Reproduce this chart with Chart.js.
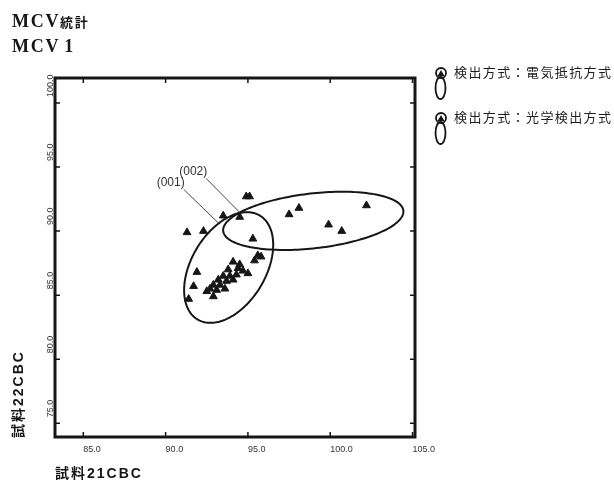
<!DOCTYPE html>
<html>
<head>
<meta charset="utf-8">
<script src="https://cdn.jsdelivr.net/npm/chart.js@4.4.1/dist/chart.umd.min.js"></script>
<style>
  html, body { margin: 0; padding: 0; background: #fff; }
  #wrap { width: 614px; height: 488px; }
</style>
</head>
<body>
<div id="wrap"><canvas id="chart" width="614" height="488"></canvas></div>
<script>
// ---- text ----
const titleLines = ['MCV統計', 'MCV 1'];
const seriesNames = ['検出方式：電気抵抗方式', '検出方式：光学検出方式'];
const xAxisTitle = '試料21CBC';
const yAxisTitle = '試料22CBC';

// ---- tick values ----
const xTicks = [85, 90, 95, 100, 105];
const yTicks = [75, 80, 85, 90, 95, 100];

// ---- MCV values, 電気抵抗方式 (x: 試料21, y: 試料22) ----
const resistX = [91.3, 92.3, 93.5, 94.9, 95.1, 94.5, 95.6, 95.4, 95.8, 91.9, 91.7, 91.4, 92.5, 92.9, 93.6,
                 94.1, 94.4, 94.7, 95.0, 93.8, 93.5, 93.2, 92.9, 93.3, 93.9, 94.3, 94.5, 92.7, 93.7, 94.1, 93.1];
const resistY = [89.9, 90.0, 91.2, 92.7, 92.7, 91.1, 88.1, 87.7, 88.0, 86.8, 85.7, 84.7, 85.3, 84.9, 85.5,
                 87.6, 87.1, 86.9, 86.7, 87.0, 86.5, 86.2, 85.8, 85.8, 86.5, 86.6, 87.4, 85.5, 86.1, 86.2, 85.4];

// ---- MCV values, 光学検出方式 ----
const opticalX = [95.3, 97.5, 98.1, 102.2, 99.9, 100.7];
const opticalY = [89.4, 91.3, 91.8, 92.0, 90.5, 90.0];

// ---- distribution ellipses: centre and two conjugate semi-axes (MCV units) ----
const ellipseIds = ['(001)', '(002)'];
const ellipseCenter = [[93.83, 87.16], [98.97, 90.80]];
const ellipseAxisA = [[1.892, 4.055], [5.473, 0.801]];
const ellipseAxisB = [[1.934, -1.492], [0.189, -2.127]];

const INK = '#161616';
const CJK = '"Noto Sans CJK JP"';

function toPoints(xs, ys) {
  return xs.map((x, i) => ({ x: x, y: ys[i] }));
}

function ellipsePoint(k, t) {
  const c = ellipseCenter[k], a = ellipseAxisA[k], b = ellipseAxisB[k];
  return [c[0] + a[0] * Math.cos(t) + b[0] * Math.sin(t),
          c[1] + a[1] * Math.cos(t) + b[1] * Math.sin(t)];
}

function triangle(ctx, x, y, r) {
  ctx.beginPath();
  ctx.moveTo(x, y - r);
  ctx.lineTo(x + r * 0.866, y + r * 0.5);
  ctx.lineTo(x - r * 0.866, y + r * 0.5);
  ctx.closePath();
  ctx.fill();
}

// draws Latin and CJK runs with their own fonts
function drawRuns(ctx, text, x, y, latinFont, cjkFont, spacing) {
  const runs = text.match(/[\u3000-\u9fff\uff00-\uffef]+|[^\u3000-\u9fff\uff00-\uffef]+/g) || [];
  ctx.letterSpacing = spacing + 'px';
  runs.forEach(run => {
    const isCjk = /[\u3000-\u9fff\uff00-\uffef]/.test(run);
    ctx.font = isCjk ? cjkFont : latinFont;
    ctx.fillText(run, x, y);
    x += ctx.measureText(run).width;
  });
  ctx.letterSpacing = '0px';
}

const decor = {
  id: 'decor',
  afterDatasetsDraw(chart) {
    const ctx = chart.ctx;
    const xs = chart.scales.x, ys = chart.scales.y;
    ctx.save();
    // ellipses
    ctx.strokeStyle = INK;
    ctx.lineWidth = 2;
    ellipseCenter.forEach((c, k) => {
      ctx.beginPath();
      for (let i = 0; i <= 180; i++) {
        const p = ellipsePoint(k, i / 180 * Math.PI * 2);
        const px = xs.getPixelForValue(p[0]), py = ys.getPixelForValue(p[1]);
        if (i === 0) ctx.moveTo(px, py); else ctx.lineTo(px, py);
      }
      ctx.closePath();
      ctx.stroke();
    });
    // callouts
    const calloutT = [-1.0, -2.49];
    const calloutOffset = [[-35, -34], [-33.5, -34]];
    ctx.lineWidth = 0.9;
    ctx.strokeStyle = '#333';
    ctx.fillStyle = '#333';
    ctx.font = '12px "Liberation Sans"';
    ctx.textAlign = 'right';
    ctx.textBaseline = 'alphabetic';
    ellipseIds.forEach((id, k) => {
      const p = ellipsePoint(k, calloutT[k]);
      const ex = xs.getPixelForValue(p[0]), ey = ys.getPixelForValue(p[1]);
      const sx = ex + calloutOffset[k][0], sy = ey + calloutOffset[k][1];
      ctx.beginPath();
      ctx.moveTo(sx, sy);
      ctx.lineTo(ex, ey);
      ctx.stroke();
      ctx.fillText(id, sx + 1, sy - 3);
    });
    ctx.restore();
  },
  afterDraw(chart) {
    const ctx = chart.ctx;
    const area = chart.chartArea;
    const xs = chart.scales.x, ys = chart.scales.y;
    ctx.save();

    // frame
    ctx.strokeStyle = INK;
    ctx.lineWidth = 3;
    ctx.strokeRect(area.left, area.top, area.right - area.left, area.bottom - area.top);

    // inward tick marks on all four sides
    ctx.lineWidth = 1.5;
    ctx.beginPath();
    xs.ticks.forEach(t => {
      const px = xs.getPixelForValue(t.value);
      ctx.moveTo(px, area.bottom); ctx.lineTo(px, area.bottom - 5);
      ctx.moveTo(px, area.top); ctx.lineTo(px, area.top + 5);
    });
    ys.ticks.forEach(t => {
      const py = ys.getPixelForValue(t.value);
      ctx.moveTo(area.left, py); ctx.lineTo(area.left + 5, py);
      ctx.moveTo(area.right, py); ctx.lineTo(area.right - 5, py);
    });
    ctx.stroke();

    // tick labels
    ctx.fillStyle = '#333';
    ctx.font = '9px "Liberation Sans"';
    ctx.textAlign = 'left';
    ctx.textBaseline = 'alphabetic';
    xs.ticks.forEach(t => {
      ctx.fillText(t.value.toFixed(1), xs.getPixelForValue(t.value), area.bottom + 15);
    });
    ys.ticks.forEach(t => {
      ctx.save();
      ctx.translate(area.left - 2, ys.getPixelForValue(t.value) - 6);
      ctx.rotate(-Math.PI / 2);
      ctx.fillText(t.value.toFixed(1), 0, 0);
      ctx.restore();
    });

    // axis titles
    ctx.fillStyle = INK;
    const axisFont = 'bold 14px "Liberation Sans"';
    const axisCjk = 'bold 14px ' + CJK;
    drawRuns(ctx, xAxisTitle, area.left, area.bottom + 41, axisFont, axisCjk, 2);
    ctx.save();
    ctx.translate(23, area.bottom + 1);
    ctx.rotate(-Math.PI / 2);
    drawRuns(ctx, yAxisTitle, 0, 0, axisFont, axisCjk, 2);
    ctx.restore();

    // titles
    ctx.wordSpacing = '-2px';
    titleLines.forEach((line, i) => {
      drawRuns(ctx, line, 12, 27 + i * 25, 'bold 18px "Liberation Serif"', 'bold 13px ' + CJK, 1.7);
    });
    ctx.wordSpacing = '0px';

    // legend
    seriesNames.forEach((name, i) => {
      const top = 67 + i * 45;
      const cx = 441;
      ctx.strokeStyle = INK;
      ctx.fillStyle = INK;
      ctx.lineWidth = 1.8;
      ctx.beginPath();
      ctx.arc(cx, top + 6, 5, 0, Math.PI * 2);
      ctx.stroke();
      ctx.beginPath();
      ctx.ellipse(cx - 0.5, top + 21, 5, 11, 0, 0, Math.PI * 2);
      ctx.stroke();
      triangle(ctx, cx, top + 7, 4);
      ctx.fillStyle = '#1e1e1e';
      ctx.font = '13px ' + CJK;
      ctx.letterSpacing = '1.4px';
      ctx.textAlign = 'left';
      ctx.fillText(name, 454, top + 10);
      ctx.letterSpacing = '0px';
    });

    ctx.restore();
  }
};

new Chart(document.getElementById('chart'), {
  type: 'scatter',
  data: {
    datasets: [
      { label: seriesNames[0], data: toPoints(resistX, resistY) },
      { label: seriesNames[1], data: toPoints(opticalX, opticalY) }
    ]
  },
  options: {
    responsive: false,
    animation: false,
    events: [],
    layout: { padding: { left: 55, top: 78, right: 199, bottom: 51 } },
    elements: {
      point: { pointStyle: 'triangle', radius: 4.5, backgroundColor: INK, borderColor: INK, borderWidth: 1 }
    },
    plugins: { legend: { display: false }, tooltip: { enabled: false }, title: { display: false } },
    scales: {
      x: {
        type: 'linear', min: 83.28, max: 105.15, display: false,
        afterBuildTicks: s => { s.ticks = xTicks.map(v => ({ value: v })); }
      },
      y: {
        type: 'linear', min: 73.93, max: 101.95, display: false,
        afterBuildTicks: s => { s.ticks = yTicks.map(v => ({ value: v })); }
      }
    }
  },
  plugins: [decor]
});
</script>
</body>
</html>
